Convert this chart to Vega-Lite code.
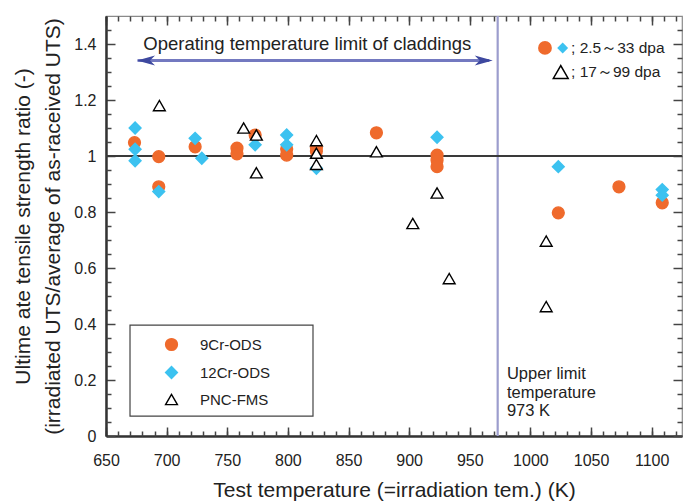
{
  "$schema": "https://vega.github.io/schema/vega-lite/v6.json",
  "width": 576,
  "height": 420,
  "autosize": "none",
  "padding": {"left": 106, "top": 16, "right": 1, "bottom": 66},
  "background": "white",
  "config": {
    "view": {"stroke": "#8a8a8a", "strokeWidth": 1.2},
    "font": "Liberation Sans",
    "axis": {"grid": false, "labelFlush": false, "labelFont": "Liberation Sans", "titleFont": "Liberation Sans", "labelColor": "#222", "titleColor": "#222", "titleFontWeight": "normal", "tickColor": "#444", "tickWidth": 1.5, "domainColor": "#333"},
    "legend": {"labelFont": "Liberation Sans", "labelFontWeight": "normal", "labelColor": "#222"}
  },
  "resolve": {"axis": {"x": "independent", "y": "independent"}},
  "layer": [
    {
      "data": {"values": [{"T": 973}]},
      "mark": {"type": "rule", "color": "#9c9dcd", "strokeWidth": 2.2},
      "encoding": {
        "x": {"field": "T", "type": "quantitative", "scale": {"domain": [650, 1125], "nice": false, "zero": false},
          "axis": {"orient": "bottom", "values": [650, 700, 750, 800, 850, 900, 950, 1000, 1050, 1100], "format": "d", "tickSize": -9, "labelPadding": 25, "labelFontSize": 16, "domainWidth": 2.5, "title": "Test temperature (=irradiation tem.) (K)", "titleFontSize": 21, "titlePadding": 11}}
      }
    },
    {
      "data": {"values": [{"ratio": 1}]},
      "mark": {"type": "rule", "color": "#3a3a3a", "strokeWidth": 2.2},
      "encoding": {
        "y": {"field": "ratio", "type": "quantitative", "scale": {"domain": [0, 1.5], "nice": false, "zero": true},
          "axis": {"orient": "left", "values": [0, 0.2, 0.4, 0.6, 0.8, 1, 1.2, 1.4], "labelExpr": "'' + datum.value", "tickSize": -9, "labelPadding": 19, "labelFontSize": 16, "domainWidth": 2.5,
            "title": ["Ultime ate tensile strength ratio (-)", "(irradiated UTS/average of as-raceived UTS)"], "titleFontSize": 21, "titleLineHeight": 30, "titlePadding": 10}}
      }
    },
    {
      "data": {"values": [{"T": 676, "T2": 966, "ratio": 1.341}]},
      "mark": {"type": "rule", "color": "#7379c0", "strokeWidth": 3},
      "encoding": {
        "x": {"field": "T", "type": "quantitative", "axis": {"orient": "bottom", "values": [650, 660, 670, 680, 690, 700, 710, 720, 730, 740, 750, 760, 770, 780, 790, 800, 810, 820, 830, 840, 850, 860, 870, 880, 890, 900, 910, 920, 930, 940, 950, 960, 970, 980, 990, 1000, 1010, 1020, 1030, 1040, 1050, 1060, 1070, 1080, 1090, 1100, 1110, 1120], "tickSize": -5, "labels": false, "domain": false, "title": null}},
        "x2": {"field": "T2"},
        "y": {"field": "ratio", "type": "quantitative", "axis": {"orient": "left", "values": [0.05, 0.1, 0.15, 0.25, 0.3, 0.35, 0.45, 0.5, 0.55, 0.65, 0.7, 0.75, 0.85, 0.9, 0.95, 1.05, 1.1, 1.15, 1.25, 1.3, 1.35, 1.45], "tickSize": -5, "labels": false, "domain": false, "title": null}}
      }
    },
    {
      "data": {"values": [{"T": 669.8, "T2": 820.7, "ratio": 0.396, "ratio2": 0.071}]},
      "mark": {"type": "rect", "fill": null, "stroke": "#444", "strokeWidth": 1.2},
      "encoding": {
        "x": {"field": "T", "type": "quantitative", "axis": null},
        "x2": {"field": "T2"},
        "y": {"field": "ratio", "type": "quantitative", "axis": null},
        "y2": {"field": "ratio2"}
      }
    },
    {
      "data": {"values": [
        {"series": "9Cr-ODS", "T": 673.5, "ratio": 1.048},
        {"series": "9Cr-ODS", "T": 693.5, "ratio": 0.998},
        {"series": "9Cr-ODS", "T": 693.5, "ratio": 0.89},
        {"series": "9Cr-ODS", "T": 723.5, "ratio": 1.033},
        {"series": "9Cr-ODS", "T": 758, "ratio": 1.028},
        {"series": "9Cr-ODS", "T": 758, "ratio": 1.008},
        {"series": "9Cr-ODS", "T": 773, "ratio": 1.075},
        {"series": "9Cr-ODS", "T": 799, "ratio": 1.025},
        {"series": "9Cr-ODS", "T": 799, "ratio": 1.003},
        {"series": "9Cr-ODS", "T": 823.5, "ratio": 1.03},
        {"series": "9Cr-ODS", "T": 823.5, "ratio": 1.018},
        {"series": "9Cr-ODS", "T": 873, "ratio": 1.083},
        {"series": "9Cr-ODS", "T": 923, "ratio": 1.003},
        {"series": "9Cr-ODS", "T": 923, "ratio": 0.985},
        {"series": "9Cr-ODS", "T": 923, "ratio": 0.962},
        {"series": "9Cr-ODS", "T": 1023, "ratio": 0.797},
        {"series": "9Cr-ODS", "T": 1073, "ratio": 0.89},
        {"series": "9Cr-ODS", "T": 1108.7, "ratio": 0.833},
        {"series": "12Cr-ODS", "T": 674, "ratio": 1.1},
        {"series": "12Cr-ODS", "T": 674, "ratio": 1.024},
        {"series": "12Cr-ODS", "T": 674, "ratio": 0.983},
        {"series": "12Cr-ODS", "T": 693.5, "ratio": 0.873},
        {"series": "12Cr-ODS", "T": 723.5, "ratio": 1.063},
        {"series": "12Cr-ODS", "T": 729, "ratio": 0.992},
        {"series": "12Cr-ODS", "T": 773, "ratio": 1.04},
        {"series": "12Cr-ODS", "T": 799, "ratio": 1.075},
        {"series": "12Cr-ODS", "T": 799, "ratio": 1.04},
        {"series": "12Cr-ODS", "T": 823.5, "ratio": 0.956},
        {"series": "12Cr-ODS", "T": 923, "ratio": 1.067},
        {"series": "12Cr-ODS", "T": 1023, "ratio": 0.962},
        {"series": "12Cr-ODS", "T": 1108.7, "ratio": 0.88},
        {"series": "12Cr-ODS", "T": 1108.7, "ratio": 0.86},
        {"series": "PNC-FMS", "T": 694, "ratio": 1.18},
        {"series": "PNC-FMS", "T": 763.5, "ratio": 1.1},
        {"series": "PNC-FMS", "T": 774, "ratio": 1.075},
        {"series": "PNC-FMS", "T": 774, "ratio": 0.94},
        {"series": "PNC-FMS", "T": 823.5, "ratio": 1.055},
        {"series": "PNC-FMS", "T": 823.5, "ratio": 1.01},
        {"series": "PNC-FMS", "T": 823.5, "ratio": 0.97},
        {"series": "PNC-FMS", "T": 873, "ratio": 1.015},
        {"series": "PNC-FMS", "T": 903, "ratio": 0.759},
        {"series": "PNC-FMS", "T": 923, "ratio": 0.868},
        {"series": "PNC-FMS", "T": 933, "ratio": 0.562},
        {"series": "PNC-FMS", "T": 1013, "ratio": 0.696},
        {"series": "PNC-FMS", "T": 1013, "ratio": 0.462}
      ]},
      "mark": {"type": "point", "size": 140, "strokeWidth": 1.4, "opacity": 1},
      "encoding": {
        "x": {"field": "T", "type": "quantitative", "axis": {"orient": "top", "values": [650, 700, 750, 800, 850, 900, 950, 1000, 1050, 1100], "tickSize": -9, "labels": false, "domain": false, "title": null}},
        "y": {"field": "ratio", "type": "quantitative", "axis": {"orient": "right", "values": [0, 0.2, 0.4, 0.6, 0.8, 1, 1.2, 1.4], "tickSize": -9, "labels": false, "domain": false, "title": null}},
        "fill": {"field": "series", "type": "nominal", "sort": null,
          "scale": {"domain": ["9Cr-ODS", "12Cr-ODS", "PNC-FMS"], "range": ["#ef6a2c", "#3cc2f0", "white"]},
          "legend": {"orient": "none", "legendX": 24, "legendY": 309, "title": null, "strokeColor": null, "padding": 12, "symbolOffset": 22, "labelOffset": 21, "labelFontSize": 15, "labelFontWeight": "normal", "rowPadding": 9, "symbolSize": 140, "symbolStrokeWidth": 1.4}},
        "stroke": {"field": "series", "type": "nominal", "sort": null,
          "scale": {"domain": ["9Cr-ODS", "12Cr-ODS", "PNC-FMS"], "range": ["#ef6a2c", "#3cc2f0", "black"]},
          "legend": {"orient": "none", "legendX": 24, "legendY": 309, "title": null, "strokeColor": null, "padding": 12, "symbolOffset": 22, "labelOffset": 21, "labelFontSize": 15, "labelFontWeight": "normal", "rowPadding": 9, "symbolSize": 140, "symbolStrokeWidth": 1.4}},
        "shape": {"field": "series", "type": "nominal", "sort": null,
          "scale": {"domain": ["9Cr-ODS", "12Cr-ODS", "PNC-FMS"], "range": ["circle", "diamond", "triangle-up"]},
          "legend": {"orient": "none", "legendX": 24, "legendY": 309, "title": null, "strokeColor": null, "padding": 12, "symbolOffset": 22, "labelOffset": 21, "labelFontSize": 15, "labelFontWeight": "normal", "rowPadding": 9, "symbolSize": 140, "symbolStrokeWidth": 1.4}}
      }
    },
    {
      "data": {"values": [{"T": 683, "ratio": 1.341}]},
      "mark": {"type": "point", "filled": true, "size": 324, "color": "#3d489f", "opacity": 1, "shape": "M-1,0L1,-0.55L0.45,0L1,0.55Z"},
      "encoding": {
        "x": {"field": "T", "type": "quantitative", "axis": {"orient": "top", "values": [650, 660, 670, 680, 690, 700, 710, 720, 730, 740, 750, 760, 770, 780, 790, 800, 810, 820, 830, 840, 850, 860, 870, 880, 890, 900, 910, 920, 930, 940, 950, 960, 970, 980, 990, 1000, 1010, 1020, 1030, 1040, 1050, 1060, 1070, 1080, 1090, 1100, 1110, 1120], "tickSize": -5, "labels": false, "domain": false, "title": null}},
        "y": {"field": "ratio", "type": "quantitative", "axis": {"orient": "right", "values": [0.05, 0.1, 0.15, 0.25, 0.3, 0.35, 0.45, 0.5, 0.55, 0.65, 0.7, 0.75, 0.85, 0.9, 0.95, 1.05, 1.1, 1.15, 1.25, 1.3, 1.35, 1.45], "tickSize": -5, "labels": false, "domain": false, "title": null}}
      }
    },
    {
      "data": {"values": [{"T": 961.5, "ratio": 1.341}]},
      "mark": {"type": "point", "filled": true, "size": 324, "color": "#3d489f", "opacity": 1, "shape": "M1,0L-1,-0.55L-0.45,0L-1,0.55Z"},
      "encoding": {"x": {"field": "T", "type": "quantitative", "axis": null}, "y": {"field": "ratio", "type": "quantitative", "axis": null}}
    },
    {
      "data": {"values": [{"T": 816, "ratio": 1.401, "label": "Operating temperature limit of claddings"}]},
      "mark": {"type": "text", "fontSize": 18.5, "color": "#222", "align": "center", "baseline": "middle"},
      "encoding": {"x": {"field": "T", "type": "quantitative", "axis": null}, "y": {"field": "ratio", "type": "quantitative", "axis": null}, "text": {"field": "label"}}
    },
    {
      "data": {"values": [
        {"T": 980.6, "ratio": 0.223, "label": "Upper limit"},
        {"T": 980.6, "ratio": 0.155, "label": "temperature"},
        {"T": 980.6, "ratio": 0.09, "label": "973 K"}
      ]},
      "mark": {"type": "text", "fontSize": 16.5, "color": "#222", "align": "left", "baseline": "middle"},
      "encoding": {"x": {"field": "T", "type": "quantitative", "axis": null}, "y": {"field": "ratio", "type": "quantitative", "axis": null}, "text": {"field": "label"}}
    },
    {
      "data": {"values": [
        {"T": 1033.5, "ratio": 1.386, "label": "; 2.5～33 dpa"},
        {"T": 1033.5, "ratio": 1.3, "label": "; 17～99 dpa"}
      ]},
      "mark": {"type": "text", "fontSize": 15.5, "color": "#222", "align": "left", "baseline": "middle"},
      "encoding": {"x": {"field": "T", "type": "quantitative", "axis": null}, "y": {"field": "ratio", "type": "quantitative", "axis": null}, "text": {"field": "label"}}
    },
    {
      "data": {"values": [{"T": 1012, "ratio": 1.386}]},
      "mark": {"type": "point", "shape": "circle", "filled": true, "size": 190, "color": "#ef6a2c", "opacity": 1},
      "encoding": {"x": {"field": "T", "type": "quantitative", "axis": null}, "y": {"field": "ratio", "type": "quantitative", "axis": null}}
    },
    {
      "data": {"values": [{"T": 1026.6, "ratio": 1.386}]},
      "mark": {"type": "point", "shape": "diamond", "filled": true, "size": 120, "color": "#3cc2f0", "opacity": 1},
      "encoding": {"x": {"field": "T", "type": "quantitative", "axis": null}, "y": {"field": "ratio", "type": "quantitative", "axis": null}}
    },
    {
      "data": {"values": [{"T": 1025, "ratio": 1.3}]},
      "mark": {"type": "point", "shape": "triangle-up", "filled": false, "size": 220, "fill": "white", "stroke": "black", "strokeWidth": 1.5, "opacity": 1},
      "encoding": {"x": {"field": "T", "type": "quantitative", "axis": null}, "y": {"field": "ratio", "type": "quantitative", "axis": null}}
    }
  ]
}
